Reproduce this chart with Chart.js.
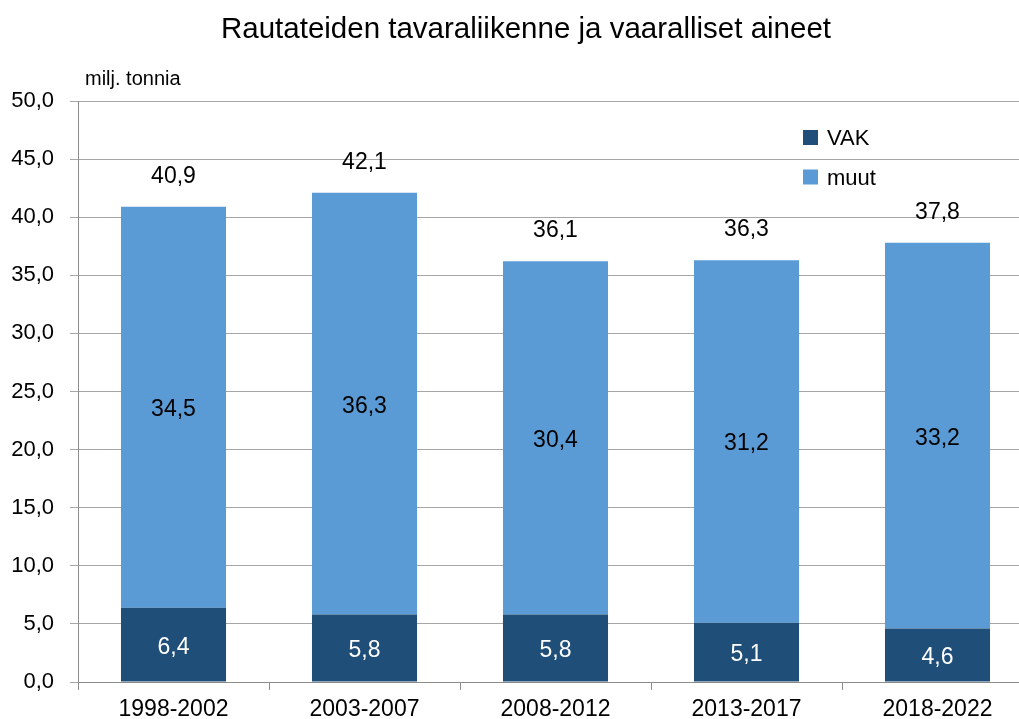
<!DOCTYPE html>
<html>
<head>
<meta charset="utf-8">
<script src="https://cdn.jsdelivr.net/npm/chart.js@4"></script>
<style>
  html, body { margin: 0; padding: 0; background: #fff; overflow: hidden; }
  #wrap { width: 1019px; height: 719px; overflow: hidden; position: relative; }
  canvas { position: absolute; left: 0; top: 0; }
</style>
</head>
<body>
<div id="wrap"><canvas id="chart" width="1040" height="719"></canvas></div>
<script>
// Datos
const categories = ['1998-2002', '2003-2007', '2008-2012', '2013-2017', '2018-2022'];
const vak = [6.4, 5.8, 5.8, 5.1, 4.6];
const muut = [34.5, 36.3, 30.4, 31.2, 33.2];
const totals = [40.9, 42.1, 36.1, 36.3, 37.8];
const seriesNames = ['VAK', 'muut'];
const seriesColors = ['#1f4e79', '#5b9bd5'];

const titleText = 'Rautateiden tavaraliikenne ja vaaralliset aineet';
const unitText = 'milj. tonnia';

const fmt = v => v.toFixed(1).replace('.', ',');
const FONT = '"Liberation Sans", Arial, sans-serif';

Chart.defaults.font.family = FONT;
Chart.defaults.color = '#000';

// Textos, etiquetas y leyenda
const extras = {
  id: 'extras',
  afterDatasetsDraw(chart) {
    const ctx = chart.ctx;
    ctx.save();
    ctx.textAlign = 'center';
    ctx.textBaseline = 'alphabetic';

    // etiquetas dentro de las barras
    ctx.font = '23px ' + FONT;
    chart.data.datasets.forEach((ds, i) => {
      const meta = chart.getDatasetMeta(i);
      meta.data.forEach((bar, j) => {
        ctx.fillStyle = i === 0 ? '#fff' : '#000';
        ctx.fillText(fmt(ds.data[j]), bar.x, (bar.y + bar.base) / 2 + 9);
      });
    });

    // totales encima
    const top = chart.getDatasetMeta(chart.data.datasets.length - 1);
    ctx.fillStyle = '#000';
    top.data.forEach((bar, j) => {
      ctx.fillText(fmt(totals[j]), bar.x, bar.y - 24);
    });

    // título
    ctx.font = '29.5px ' + FONT;
    ctx.fillText(titleText, 526, 38);

    // unidad
    ctx.font = '20px ' + FONT;
    ctx.textAlign = 'left';
    ctx.fillText(unitText, 85, 85);

    // leyenda
    ctx.font = '22px ' + FONT;
    seriesNames.forEach((name, i) => {
      const y = 130 + i * 39.5;
      ctx.fillStyle = seriesColors[i];
      ctx.fillRect(803, y, 15, 15);
      ctx.fillStyle = '#000';
      ctx.fillText(name, 827, y + 15);
    });
    ctx.restore();
  }
};

const ctx1 = document.getElementById('chart').getContext('2d');
const rautatieChart = new Chart(ctx1, {
  type: 'bar',
  data: {
    labels: categories,
    datasets: [
      { label: seriesNames[0], data: vak, backgroundColor: seriesColors[0] },
      { label: seriesNames[1], data: muut, backgroundColor: seriesColors[1] },
    ],
  },
  options: {
    responsive: false,
    animation: false,
    layout: { padding: { top: 101, left: 0, right: 7, bottom: 0 } },
    categoryPercentage: 1,
    barPercentage: 0.55,
    plugins: {
      legend: { display: false },
      tooltip: { enabled: false },
      title: { display: false },
    },
    scales: {
      x: {
        stacked: true,
        grid: { offset: true, drawOnChartArea: false, drawTicks: true, tickLength: 8, color: '#8c8c8c' },
        border: { color: '#8c8c8c' },
        ticks: { font: { size: 23 }, padding: 6, color: '#000', maxRotation: 0, autoSkip: false },
        afterFit: s => { s.height = 37; },
      },
      y: {
        stacked: true,
        min: 0,
        max: 50,
        grid: { color: '#a6a6a6', tickLength: 8 },
        border: { color: '#8c8c8c' },
        ticks: { stepSize: 5, font: { size: 22 }, padding: 16, color: '#000', callback: v => fmt(v) },
        afterFit: s => { s.width = 78; },
      },
    },
  },
  plugins: [extras],
});
</script>
</body>
</html>
